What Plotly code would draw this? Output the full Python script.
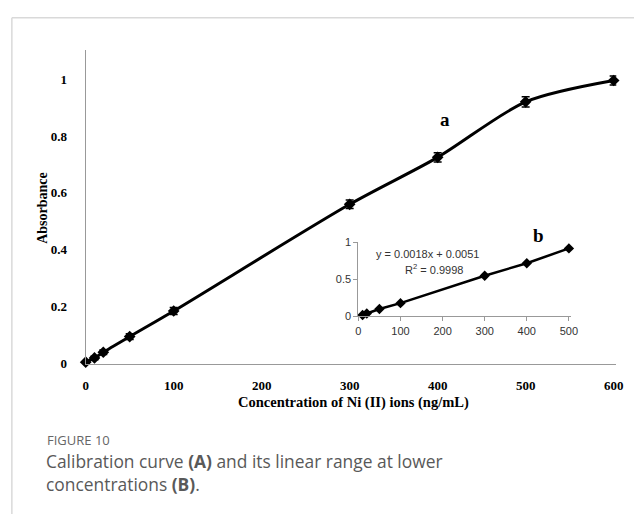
import plotly.graph_objects as go

W, H = 641, 522

# Main calibration curve (a)
conc_main = [0, 10, 20, 50, 100, 300, 400, 500, 600]
abs_main = [0.005, 0.02, 0.04, 0.095, 0.185, 0.56, 0.725, 0.92, 0.995]
err_main = [0.006, 0.006, 0.008, 0.01, 0.012, 0.015, 0.016, 0.018, 0.016]

# Inset linear range (b)
conc_lin = [10, 20, 50, 100, 300, 400, 500]
abs_lin = [0.02, 0.04, 0.1, 0.18, 0.55, 0.72, 0.92]

main_xticks = [0, 100, 200, 300, 400, 500, 600]
main_yticks = [0, 0.2, 0.4, 0.6, 0.8, 1]
main_yticklabels = ["0", "0.2", "0.4", "0.6", "0.8", "1"]
inset_xticks = [0, 100, 200, 300, 400, 500]
inset_yticks = [0, 0.5, 1]
inset_yticklabels = ["0", "0.5", "1"]

def px(x):
    return x / W

def py(y):
    return (H - y) / H

serif = "Liberation Serif, Times New Roman, serif"
sans = "Liberation Sans, Arial, sans-serif"
capfont = "Open Sans, sans-serif"

fig = go.Figure()
fig.add_trace(go.Scatter(
    x=conc_main, y=abs_main, mode="lines+markers",
    line=dict(color="black", width=3, shape="spline", smoothing=0.8),
    marker=dict(symbol="diamond", size=9, color="black"),
    error_y=dict(type="data", array=err_main, color="black", thickness=1.5, width=4),
    xaxis="x", yaxis="y", showlegend=False, cliponaxis=False,
))
fig.add_trace(go.Scatter(
    x=conc_lin, y=abs_lin, mode="lines+markers",
    line=dict(color="black", width=2.5),
    marker=dict(symbol="diamond", size=8, color="black"),
    xaxis="x2", yaxis="y2", showlegend=False, cliponaxis=False,
))

def ann(text, x, y, font, xanchor="center", yanchor="middle", **kw):
    return dict(text=text, x=px(x), y=py(y), xref="paper", yref="paper",
                xanchor=xanchor, yanchor=yanchor, showarrow=False, font=font, **kw)

fig.update_layout(
    width=W, height=H,
    margin=dict(l=0, r=0, t=0, b=0),
    paper_bgcolor="white", plot_bgcolor="rgba(0,0,0,0)",
    xaxis=dict(
        domain=[px(84), px(623)], range=[0, 603],
        showline=True, linecolor="#999", linewidth=1, mirror=False,
        showgrid=False, zeroline=False, ticks="",
        tickvals=main_xticks, ticktext=[str(v) for v in main_xticks],
        tickfont=dict(family=serif, size=13, color="black", weight="bold"),
        ticklabelstandoff=10, anchor="y",
    ),
    yaxis=dict(
        domain=[py(367.5), py(45)], range=[0, 1.103],
        showline=True, linecolor="#999", linewidth=1,
        showgrid=False, zeroline=False, ticks="",
        tickvals=main_yticks, ticktext=main_yticklabels,
        tickfont=dict(family=serif, size=13, color="black", weight="bold"),
        ticklabelstandoff=15, anchor="x",
    ),
    xaxis2=dict(
        domain=[px(361), px(577)], range=[0, 505],
        showline=True, linecolor="#999", linewidth=1,
        showgrid=False, zeroline=False,
        ticks="outside", ticklen=4, tickcolor="#999",
        tickvals=inset_xticks, ticktext=[str(v) for v in inset_xticks],
        tickfont=dict(family=sans, size=11, color="#333"),
        anchor="y2",
    ),
    yaxis2=dict(
        domain=[py(319), py(243)], range=[0, 1],
        showline=True, linecolor="#999", linewidth=1,
        showgrid=False, zeroline=False,
        ticks="outside", ticklen=4, tickcolor="#999",
        tickvals=inset_yticks, ticktext=inset_yticklabels,
        tickfont=dict(family=sans, size=11, color="#333"),
        anchor="x2",
    ),
    shapes=[
        dict(type="line", xref="paper", yref="paper", x0=px(9), x1=1, y0=py(12), y1=py(12),
             line=dict(color="#d9d9d9", width=1.5)),
        dict(type="line", xref="paper", yref="paper", x0=px(9), x1=px(9), y0=py(12), y1=0,
             line=dict(color="#d9d9d9", width=1.5)),
    ],
    annotations=[
        ann("<b>Absorbance</b>", 40, 207, dict(family=serif, size=14, color="black"), textangle=-90),
        ann("<b>Concentration of Ni (II) ions (ng/mL)</b>", 356, 407,
            dict(family=serif, size=14.5, color="black")),
        ann("<b>a</b>", 449, 117, dict(family=serif, size=19, color="black")),
        ann("<b>b</b>", 544, 236, dict(family=serif, size=19, color="black")),
        ann("y = 0.0018x + 0.0051", 431, 255, dict(family=sans, size=11, color="#333")),
        ann("R<sup>2</sup> = 0.9998", 438, 270, dict(family=sans, size=11, color="#333")),
        ann("FIGURE 10", 43, 445.5, dict(family=capfont, size=13, color="#666"), xanchor="left"),
        ann("Calibration curve <b>(A)</b> and its linear range at lower<br>concentrations <b>(B)</b>.",
            42, 479, dict(family=capfont, size=17.4, color="#595959"),
            xanchor="left", align="left"),
    ],
)

fig.write_html("out.html")
